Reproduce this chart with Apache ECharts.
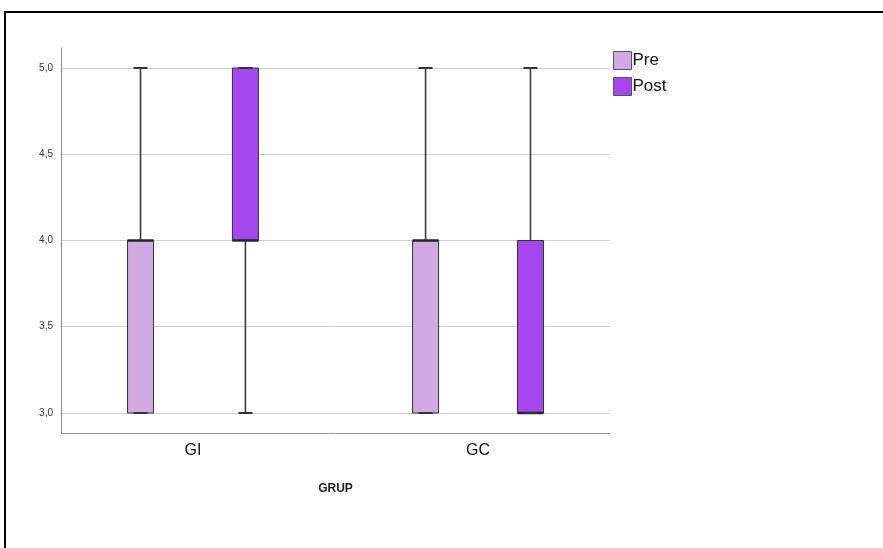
<!DOCTYPE html>
<html>
<head>
<meta charset="utf-8">
<style>
  html, body { margin: 0; padding: 0; background: #fff; }
  #chart { width: 883px; height: 548px; }
</style>
<script src="https://cdn.jsdelivr.net/npm/echarts@6/dist/echarts.min.js"></script>
</head>
<body>
<div id="chart"></div>
<script>
// Groups on the horizontal axis
const groups = ['GI', 'GC'];
// Five-number summaries per group: [min, Q1, median, Q3, max]
const preStats = [
  [3, 3, 4, 4, 5],
  [3, 3, 4, 4, 5]
];
const postStats = [
  [3, 4, 4, 5, 5],
  [3, 3, 3, 4, 5]
];
// Value axis ticks
const yTicks = [3, 3.5, 4, 4.5, 5];
const seriesNames = ['Pre', 'Post'];
const seriesColors = ['#d1aae3', '#a547ee'];

const FONT = '"Liberation Sans", Arial, sans-serif';
const BOX_W = 26;      // box width in px
const CAP_W = 14;      // whisker cap width in px
const PAIR_OFFSET = 0.184; // half distance between Pre/Post boxes, in group units

function makeRenderer(side) {
  return function (params, api) {
    const x = api.value(0);
    const unit = api.size([1, 0])[0];
    const cx = api.coord([x, 0])[0] + side * PAIR_OFFSET * unit;
    const y = i => api.coord([x, api.value(i)])[1];
    const yMin = y(1), yQ1 = y(2), yMed = y(3), yQ3 = y(4), yMax = y(5);
    const color = api.visual('color');
    const wStyle = { stroke: '#3c3c3c', lineWidth: 1.6 };
    const children = [];
    if (yMax < yQ3) {
      children.push({ type: 'line', shape: { x1: cx, y1: yMax, x2: cx, y2: yQ3 }, style: wStyle });
    }
    if (yMin > yQ1) {
      children.push({ type: 'line', shape: { x1: cx, y1: yQ1, x2: cx, y2: yMin }, style: wStyle });
    }
    children.push({
      type: 'rect',
      shape: { x: cx - BOX_W / 2, y: yQ3, width: BOX_W, height: yQ1 - yQ3 },
      style: { fill: color, stroke: '#333', lineWidth: 1 }
    });
    children.push({
      type: 'line',
      shape: { x1: cx - BOX_W / 2, y1: yMed, x2: cx + BOX_W / 2, y2: yMed },
      style: { stroke: '#262626', lineWidth: 2.5 }
    });
    children.push({ type: 'line', shape: { x1: cx - CAP_W / 2, y1: yMax, x2: cx + CAP_W / 2, y2: yMax }, style: { stroke: '#333', lineWidth: 2 } });
    children.push({ type: 'line', shape: { x1: cx - CAP_W / 2, y1: yMin, x2: cx + CAP_W / 2, y2: yMin }, style: { stroke: '#333', lineWidth: 2 } });
    return { type: 'group', children };
  };
}

function toData(stats) {
  return stats.map((s, i) => [i].concat(s));
}

const chart = echarts.init(document.getElementById('chart'), null, { renderer: 'canvas' });
chart.setOption({
  animation: false,
  backgroundColor: '#fff',
  textStyle: { fontFamily: FONT },
  graphic: [{
    type: 'rect',
    shape: { x: 5, y: 12, width: 920, height: 600 },
    style: { fill: 'none', stroke: '#000', lineWidth: 2 },
    silent: true
  }],
  legend: {
    orient: 'vertical',
    left: 613,
    top: 51,
    padding: 0,
    itemWidth: 18,
    itemHeight: 18,
    itemGap: 7,
    icon: 'rect',
    textStyle: { fontSize: 17, color: '#111', fontFamily: FONT, padding: [0, 0, 0, -4] },
    data: seriesNames.map((n, i) => ({
      name: n,
      itemStyle: { color: seriesColors[i], borderColor: '#555', borderWidth: 1 }
    }))
  },
  grid: { left: 61, right: 273, top: 48, bottom: 115 },
  xAxis: {
    type: 'value',
    min: -0.463,
    max: 1.463,
    name: 'GRUP',
    nameLocation: 'middle',
    nameGap: 50,
    nameTextStyle: { fontSize: 12, color: '#222', fontWeight: 600, fontFamily: FONT },
    axisLine: { show: true, onZero: false, lineStyle: { color: '#999', width: 1 } },
    axisTick: { show: false, customValues: [0, 1] },
    axisLabel: {
      customValues: [0, 1],
      formatter: v => groups[Math.round(v)],
      fontSize: 16,
      color: '#111',
      margin: 10,
      fontFamily: FONT
    },
    splitLine: { show: false }
  },
  yAxis: {
    type: 'value',
    min: 2.884,
    max: 5.116,
    axisLine: { show: true, onZero: false, lineStyle: { color: '#888', width: 1 } },
    axisTick: { show: false, customValues: yTicks },
    axisLabel: {
      customValues: yTicks,
      formatter: v => v.toFixed(1).replace('.', ','),
      fontSize: 10,
      color: '#333',
      margin: 8,
      fontFamily: FONT
    },
    splitLine: { show: true, lineStyle: { color: '#cfcfcf', width: 1 } }
  },
  series: [
    {
      name: seriesNames[0],
      type: 'custom',
      renderItem: makeRenderer(-1),
      itemStyle: { color: seriesColors[0] },
      encode: { x: 0, y: [1, 2, 3, 4, 5] },
      data: toData(preStats)
    },
    {
      name: seriesNames[1],
      type: 'custom',
      renderItem: makeRenderer(1),
      itemStyle: { color: seriesColors[1] },
      encode: { x: 0, y: [1, 2, 3, 4, 5] },
      data: toData(postStats)
    }
  ]
});
</script>
</body>
</html>
